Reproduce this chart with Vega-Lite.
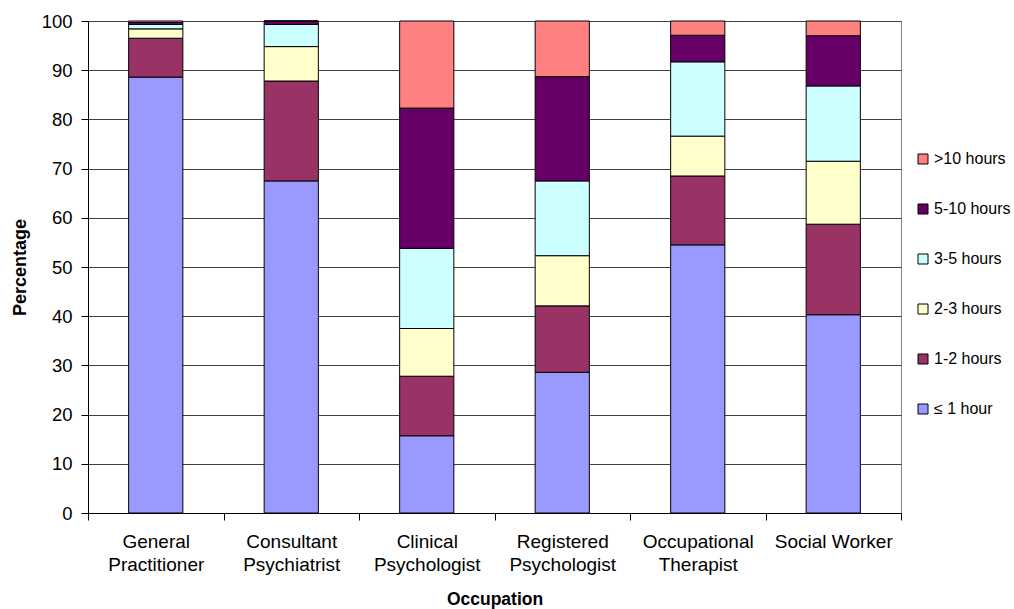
{
  "$schema": "https://vega.github.io/schema/vega-lite/v6.json",
  "width": 813,
  "height": 492,
  "autosize": {"type": "none"},
  "padding": {"left": 88, "top": 21, "right": 113, "bottom": 96},
  "background": "white",
  "config": {
    "font": "Liberation Sans",
    "view": {"stroke": "#808080", "strokeWidth": 1}
  },
  "data": {
    "values": [
      {"occupation": "General Practitioner", "hours": "≤ 1 hour", "level": 1, "pct": 88.6},
      {"occupation": "General Practitioner", "hours": "1-2 hours", "level": 2, "pct": 7.9},
      {"occupation": "General Practitioner", "hours": "2-3 hours", "level": 3, "pct": 1.9},
      {"occupation": "General Practitioner", "hours": "3-5 hours", "level": 4, "pct": 0.9},
      {"occupation": "General Practitioner", "hours": "5-10 hours", "level": 5, "pct": 0.4},
      {"occupation": "General Practitioner", "hours": ">10 hours", "level": 6, "pct": 0.3},
      {"occupation": "Consultant Psychiatrist", "hours": "≤ 1 hour", "level": 1, "pct": 67.5},
      {"occupation": "Consultant Psychiatrist", "hours": "1-2 hours", "level": 2, "pct": 20.3},
      {"occupation": "Consultant Psychiatrist", "hours": "2-3 hours", "level": 3, "pct": 7.0},
      {"occupation": "Consultant Psychiatrist", "hours": "3-5 hours", "level": 4, "pct": 4.5},
      {"occupation": "Consultant Psychiatrist", "hours": "5-10 hours", "level": 5, "pct": 0.7},
      {"occupation": "Consultant Psychiatrist", "hours": ">10 hours", "level": 6, "pct": 0.0},
      {"occupation": "Clinical Psychologist", "hours": "≤ 1 hour", "level": 1, "pct": 15.7},
      {"occupation": "Clinical Psychologist", "hours": "1-2 hours", "level": 2, "pct": 12.1},
      {"occupation": "Clinical Psychologist", "hours": "2-3 hours", "level": 3, "pct": 9.7},
      {"occupation": "Clinical Psychologist", "hours": "3-5 hours", "level": 4, "pct": 16.3},
      {"occupation": "Clinical Psychologist", "hours": "5-10 hours", "level": 5, "pct": 28.5},
      {"occupation": "Clinical Psychologist", "hours": ">10 hours", "level": 6, "pct": 17.7},
      {"occupation": "Registered Psychologist", "hours": "≤ 1 hour", "level": 1, "pct": 28.6},
      {"occupation": "Registered Psychologist", "hours": "1-2 hours", "level": 2, "pct": 13.5},
      {"occupation": "Registered Psychologist", "hours": "2-3 hours", "level": 3, "pct": 10.2},
      {"occupation": "Registered Psychologist", "hours": "3-5 hours", "level": 4, "pct": 15.2},
      {"occupation": "Registered Psychologist", "hours": "5-10 hours", "level": 5, "pct": 21.2},
      {"occupation": "Registered Psychologist", "hours": ">10 hours", "level": 6, "pct": 11.3},
      {"occupation": "Occupational Therapist", "hours": "≤ 1 hour", "level": 1, "pct": 54.5},
      {"occupation": "Occupational Therapist", "hours": "1-2 hours", "level": 2, "pct": 14.0},
      {"occupation": "Occupational Therapist", "hours": "2-3 hours", "level": 3, "pct": 8.1},
      {"occupation": "Occupational Therapist", "hours": "3-5 hours", "level": 4, "pct": 15.1},
      {"occupation": "Occupational Therapist", "hours": "5-10 hours", "level": 5, "pct": 5.4},
      {"occupation": "Occupational Therapist", "hours": ">10 hours", "level": 6, "pct": 2.9},
      {"occupation": "Social Worker", "hours": "≤ 1 hour", "level": 1, "pct": 40.3},
      {"occupation": "Social Worker", "hours": "1-2 hours", "level": 2, "pct": 18.4},
      {"occupation": "Social Worker", "hours": "2-3 hours", "level": 3, "pct": 12.8},
      {"occupation": "Social Worker", "hours": "3-5 hours", "level": 4, "pct": 15.3},
      {"occupation": "Social Worker", "hours": "5-10 hours", "level": 5, "pct": 10.2},
      {"occupation": "Social Worker", "hours": ">10 hours", "level": 6, "pct": 3.0}
    ]
  },
  "mark": {"type": "bar", "stroke": "#000000", "strokeWidth": 1, "width": {"band": 0.4}},
  "encoding": {
    "x": {
      "field": "occupation",
      "type": "nominal",
      "sort": ["General Practitioner", "Consultant Psychiatrist", "Clinical Psychologist", "Registered Psychologist", "Occupational Therapist", "Social Worker"],
      "scale": {"paddingInner": 0, "paddingOuter": 0},
      "axis": {
        "title": "Occupation",
        "titleFontSize": 17.5,
        "titleFontWeight": "bold",
        "titleColor": "#000000",
        "titlePadding": 16,
        "labelAngle": 0,
        "labelFontSize": 19,
        "labelColor": "#000000",
        "labelPadding": 12,
        "labelLineHeight": 23,
        "labelExpr": "isValid(datum.value) ? (datum.value == 'Social Worker' ? datum.value : split(datum.value, ' ')) : ''",
        "tickBand": "extent",
        "tickSize": 7,
        "tickColor": "#000000",
        "domainColor": "#000000",
        "grid": false
      }
    },
    "y": {
      "field": "pct",
      "type": "quantitative",
      "stack": "zero",
      "scale": {"domain": [0, 100], "nice": false},
      "axis": {
        "title": "Percentage",
        "titleFontSize": 18,
        "titleFontWeight": "bold",
        "titleColor": "#000000",
        "titlePadding": 12,
        "values": [0, 10, 20, 30, 40, 50, 60, 70, 80, 90, 100],
        "labelFontSize": 18.5,
        "labelColor": "#000000",
        "labelPadding": 9,
        "tickSize": 7,
        "tickColor": "#000000",
        "domainColor": "#000000",
        "grid": true,
        "gridColor": "#404040",
        "gridWidth": 1
      }
    },
    "color": {
      "field": "hours",
      "type": "nominal",
      "scale": {
        "domain": ["≤ 1 hour", "1-2 hours", "2-3 hours", "3-5 hours", "5-10 hours", ">10 hours"],
        "range": ["#9999FF", "#993366", "#FFFFCC", "#CCFFFF", "#660066", "#FF8080"]
      },
      "legend": {
        "title": null,
        "orient": "none",
        "legendX": 827,
        "legendY": 130,
        "values": [">10 hours", "5-10 hours", "3-5 hours", "2-3 hours", "1-2 hours", "≤ 1 hour"],
        "symbolType": "square",
        "symbolSize": 100,
        "symbolStrokeColor": "#000000",
        "symbolStrokeWidth": 1,
        "labelFontSize": 16,
        "labelColor": "#000000",
        "labelOffset": 3,
        "rowPadding": 34
      }
    },
    "order": {"field": "level", "type": "quantitative", "sort": "ascending"}
  }
}
